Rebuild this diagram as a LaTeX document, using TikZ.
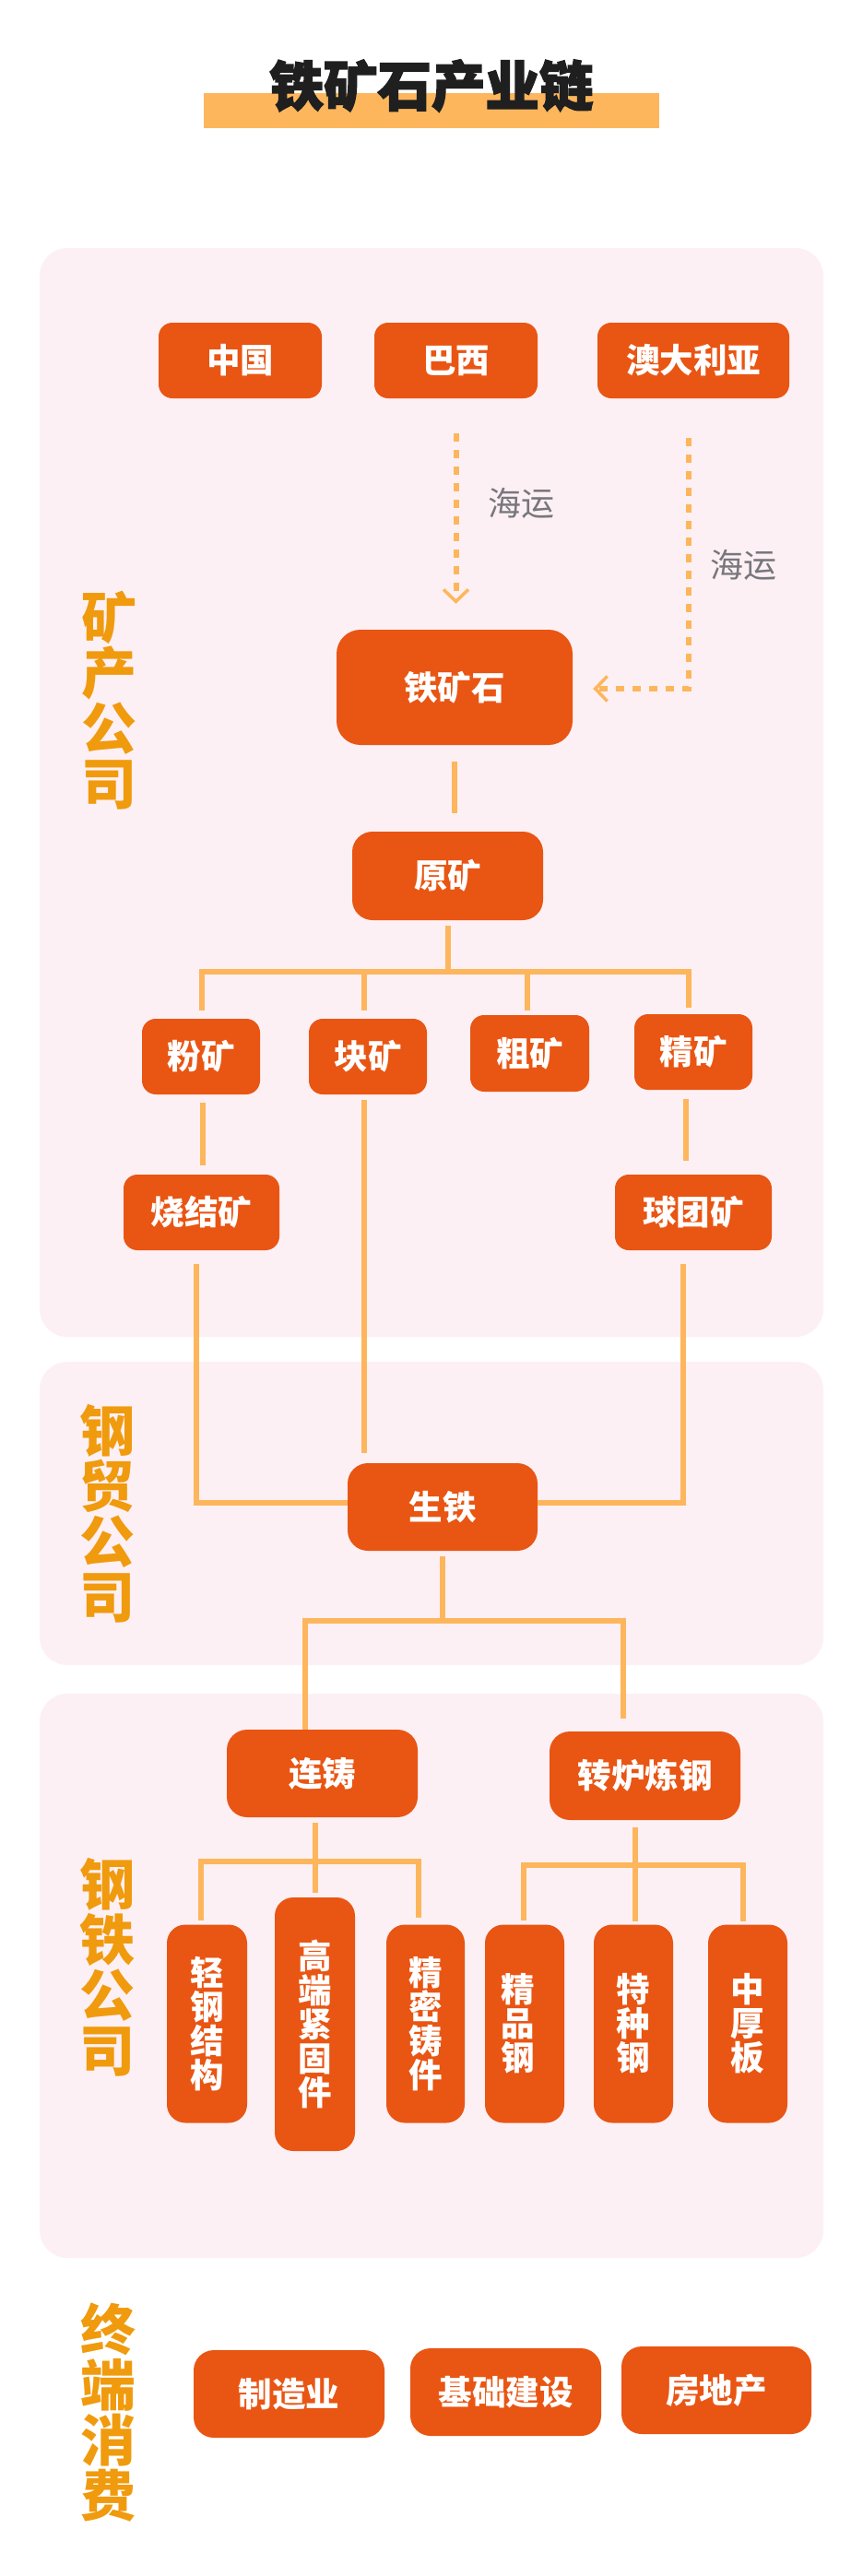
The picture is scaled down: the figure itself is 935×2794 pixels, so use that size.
\documentclass[tikz,border=0pt]{standalone}
\usepackage{fontspec}
\newfontfamily\cjk{Noto Sans CJK SC}
\newfontfamily\cjktitle[BoldFeatures={FakeBold=2.5}]{Noto Sans CJK SC}
\usetikzlibrary{arrows.meta}
\definecolor{oreorange}{HTML}{E95513}
\definecolor{linkorange}{HTML}{FDB65C}
\definecolor{sideorange}{HTML}{F09A0E}
\definecolor{panelpink}{HTML}{FDF0F4}
\definecolor{seagray}{HTML}{77777B}
\tikzset{
	orebox/.style 2 args={fill=oreorange,text=white,rounded corners=15pt,inner sep=0pt,minimum width=#1pt,minimum height=#2pt,font=\cjk\bfseries\fontsize{36.5pt}{37pt}\selectfont,align=center},
	sidetext/.style={text=sideorange,inner sep=0pt,font=\cjk\bfseries\fontsize{60pt}{60pt}\selectfont,align=center},
	seatext/.style={text=seagray,inner sep=0pt,font=\cjk\fontsize{36pt}{36pt}\selectfont},
	link/.style={draw=linkorange,line width=6pt},
	sealink/.style={draw=linkorange,line width=6pt,dash pattern=on 9pt off 9pt,-{Straight Barb[length=13pt,width=27pt,line width=3.5pt]}},
	panel/.style={fill=panelpink,rounded corners=30pt}
}
\begin{document}
\begin{tikzpicture}[x=1pt,y=-1pt]
	\useasboundingbox (0,0) rectangle (935,2794);
	\fill[white] (0,0) rectangle (935,2794);
	\fill[panel] (43,269) rectangle (893,1450);
	\fill[panel] (43,1477) rectangle (893,1806);
	\fill[panel] (43,1837) rectangle (893,2449);
	\fill[linkorange] (221,101) rectangle (715,139);
	\node (title) at (468,93) [inner sep=0pt,font=\cjktitle\bfseries\fontsize{58.5pt}{60pt}\selectfont,text=black!88] {铁矿石产业链};
	\node (sidemine) at (118,760) [sidetext] {矿\\产\\公\\司};
	\node (sidetrade) at (116,1642) [sidetext] {钢\\贸\\公\\司};
	\node (sidesteel) at (116,2134) [sidetext] {钢\\铁\\公\\司};
	\node (sideend) at (117,2616) [sidetext] {终\\端\\消\\费};
	% origin
	\node (china) at (260.5,391) [orebox={177}{82}] {中国};
	\node (brazil) at (494.5,391) [orebox={177}{82}] {巴西};
	\node (aus) at (752,391) [orebox={208}{82}] {澳大利亚};
	\node (seaa) at (565,546) [seatext] {海运};
	\node (seab) at (806,613) [seatext] {海运};
	% ore
	\node (ironore) at (493,745.5) [orebox={256}{125},rounded corners=26pt] {铁矿石};
	\node (rawore) at (485.5,950) [orebox={207}{96},rounded corners=22pt] {原矿};
	\node (fineore) at (218,1146) [orebox={128}{82}] {粉矿};
	\node (lumpore) at (399,1146) [orebox={128}{82}] {块矿};
	\node (coarseore) at (574.5,1142.5) [orebox={129}{83}] {粗矿};
	\node (concore) at (752,1141) [orebox={128}{82}] {精矿};
	\node (sinter) at (218.5,1315) [orebox={169}{82}] {烧结矿};
	\node (pellet) at (752,1315) [orebox={170}{82}] {球团矿};
	% iron and steel
	\node (pigiron) at (480,1634.5) [orebox={206}{95},rounded corners=22pt] {生铁};
	\node (casting) at (349.5,1923.5) [orebox={207}{95},rounded corners=22pt] {连铸};
	\node (converter) at (699.5,1926) [orebox={207}{96},rounded corners=22pt] {转炉炼钢};
	\node (lightsteel) at (224.5,2195) [orebox={87}{215},rounded corners=20pt] {轻\\钢\\结\\构};
	\node (fastener) at (341.5,2195.5) [orebox={87}{275},rounded corners=20pt] {高\\端\\紧\\固\\件};
	\node (precise) at (461.5,2195) [orebox={85}{215},rounded corners=20pt] {精\\密\\铸\\件};
	\node (finesteel) at (569,2195) [orebox={86}{215},rounded corners=20pt] {\hspace*{-14pt}精\\\hspace*{-14pt}品\\\hspace*{-14pt}钢};
	\node (specsteel) at (687,2195) [orebox={86}{215},rounded corners=20pt] {特\\种\\钢};
	\node (plate) at (811,2195) [orebox={86}{215},rounded corners=20pt] {中\\厚\\板};
	% consumers
	\node (factory) at (313.5,2596.5) [orebox={207}{95},rounded corners=22pt] {制造业};
	\node (infra) at (548.5,2594.5) [orebox={207}{95},rounded corners=22pt] {基础建设};
	\node (estate) at (777,2592.5) [orebox={206}{95},rounded corners=22pt] {房地产};
	% shipping
	\coordinate (seabend) at (747,747);
	\draw[sealink,shorten <=38pt,shorten >=28pt] (brazil.south) -- (brazil.south |- ironore.north);
	\draw[sealink,shorten <=43pt,shorten >=22pt] (747,0 |- aus.south) -- (seabend) -- (seabend -| ironore.east);
	% ore tree
	\coordinate (orebus) at (0,1054);
	\draw[link,shorten <=18pt,shorten >=20pt] (ironore.south) -- (ironore.south |- rawore.north);
	\draw[link,shorten <=6pt] (rawore.south) -- (rawore.south |- orebus);
	\draw[link,shorten <=0pt,shorten >=0pt] (219,0 |- fineore.north) ++(0,-9) -- (219,0 |- orebus) -- (747,0 |- orebus) -- (747,1093);
	\foreach \x/\n/\g in {395/lumpore/9,572/coarseore/5}
		\draw[link,shorten >=\g pt] (\x,0 |- orebus) -- (\x,0 |- \n.north);
	\draw[link,shorten <=9pt,shorten >=10pt] (220,0 |- fineore.south) -- (220,0 |- sinter.north);
	\draw[link,shorten <=10pt,shorten >=15pt] (744,0 |- concore.south) -- (744,0 |- pellet.north);
	% into pig iron
	\coordinate (ironbus) at (0,1630);
	\draw[link,shorten <=6pt,shorten >=11pt] (395,0 |- lumpore.south) -- (395,0 |- pigiron.north);
	\draw[link,shorten <=15pt] (213,0 |- sinter.south) -- (213,0 |- ironbus) -- (pigiron.west |- ironbus);
	\draw[link,shorten <=15pt] (741,0 |- pellet.south) -- (741,0 |- ironbus) -- (pigiron.east |- ironbus);
	% steel tree
	\coordinate (steelbus) at (0,1758);
	\draw[link,shorten <=6pt] (pigiron.south) -- (pigiron.south |- steelbus);
	\draw[link,shorten >=7pt] (331,0 |- casting.north) -- (331,0 |- steelbus) -- (676,0 |- steelbus) -- (676,1871);
	\coordinate (castbus) at (0,2019);
	\coordinate (convbus) at (0,2023);
	\draw[link,shorten <=6pt,shorten >=5pt] (342,0 |- casting.south) -- (342,0 |- fastener.north);
	\draw[link] (218,2083) -- (218,0 |- castbus) -- (454,0 |- castbus) -- (454,2080);
	\draw[link,shorten <=8pt,shorten >=3pt] (689,0 |- converter.south) -- (689,0 |- specsteel.north);
	\draw[link] (568,2083) -- (568,0 |- convbus) -- (806,0 |- convbus) -- (806,2084);
\end{tikzpicture}
\end{document}
